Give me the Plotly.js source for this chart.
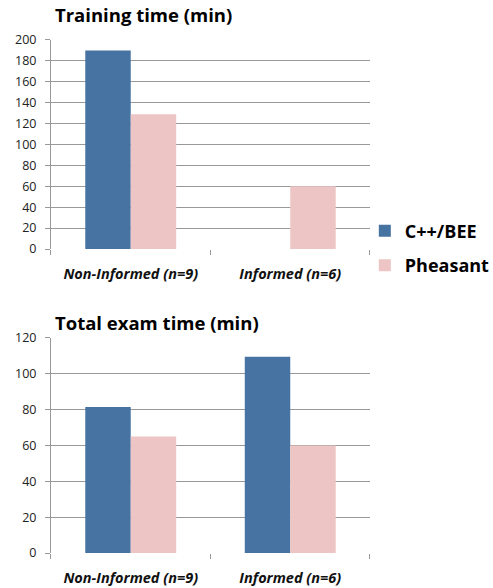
<!DOCTYPE html>
<html><head><meta charset="utf-8">
<script src="https://cdn.plot.ly/plotly-3.0.1.min.js"></script>
<style>body{margin:0;padding:0;background:#fff}#c{width:493px;height:588px}</style>
</head><body><div id="c"></div>
<script>
const categories = ["Non-Informed (n=9)", "Informed (n=6)"];
const seriesNames = ["C++/BEE", "Pheasant"];
const trainingCpp = [190, null];
const trainingPheasant = [129, 60];
const examCpp = [81.5, 109.5];
const examPheasant = [65, 60];
const trainingTicks = [0, 20, 40, 60, 80, 100, 120, 140, 160, 180, 200];
const examTicks = [0, 20, 40, 60, 80, 100, 120];
const chartTitles = ["Training time (min)", "Total exam time (min)"];

const BLUE = "#4773a3", PINK = "#edc5c4";
const FONT = "Open Sans, Liberation Sans, sans-serif";
const catLabels = categories.map(c => "<b><i>" + c + "</i></b>");

const traces = [
  {type:"bar", x:categories, y:trainingCpp, name:seriesNames[0], marker:{color:BLUE}, xaxis:"x", yaxis:"y", legendgroup:"a"},
  {type:"bar", x:categories, y:trainingPheasant, name:seriesNames[1], marker:{color:PINK}, xaxis:"x", yaxis:"y", legendgroup:"b"},
  {type:"bar", x:categories, y:examCpp, name:seriesNames[0], marker:{color:BLUE}, xaxis:"x2", yaxis:"y2", showlegend:false},
  {type:"bar", x:categories, y:examPheasant, name:seriesNames[1], marker:{color:PINK}, xaxis:"x2", yaxis:"y2", showlegend:false}
];

function xax(anchor){
  return {anchor:anchor, domain:[0.1034,0.7505], tickmode:"array", tickvals:categories, ticktext:catLabels,
    tickson:"boundaries", ticks:"outside", ticklen:5, tickcolor:"#999", showline:false, ticklabelstandoff:14,
    tickfont:{family:FONT, size:14.5, color:"#111"}, showgrid:false, zeroline:false, fixedrange:true, automargin:false};
}
function yax(anchor, dom, ticks, range){
  return {anchor:anchor, domain:dom, range:range, tickmode:"array", tickvals:ticks,
    showline:true, linecolor:"#999", linewidth:1, ticks:"outside", ticklen:5, tickcolor:"#999", ticklabelstandoff:6,
    showgrid:true, gridcolor:"#999", gridwidth:1, zeroline:false, automargin:false,
    tickfont:{family:FONT, size:12.5, color:"#222"}, fixedrange:true};
}

const layout = {
  width:493, height:588, margin:{l:0,r:0,t:0,b:0,autoexpand:false},
  paper_bgcolor:"#fff", plot_bgcolor:"#fff",
  barmode:"group", bargap:0.43, bargroupgap:0,
  showlegend:true,
  legend:{x:0.74, y:0.578, xanchor:"left", yanchor:"middle", traceorder:"grouped", tracegroupgap:8, itemwidth:30,
    font:{family:FONT, size:18, color:"#000", weight:"bold"}, bgcolor:"rgba(0,0,0,0)"},
  xaxis:xax("y"), yaxis:yax("x", [0.5765,0.932], trainingTicks, [0,200]),
  xaxis2:xax("y2"), yaxis2:yax("x2", [0.0595,0.4252], examTicks, [0,120]),
  annotations:[
    {text:"<b>"+chartTitles[0]+"</b>", xref:"paper", yref:"paper", x:0.108, y:1-15/588, xanchor:"left", yanchor:"middle", showarrow:false, font:{family:FONT, size:18.5, color:"#000"}},
    {text:"<b>"+chartTitles[1]+"</b>", xref:"paper", yref:"paper", x:0.108, y:1-322/588, xanchor:"left", yanchor:"middle", showarrow:false, font:{family:FONT, size:18.5, color:"#000"}}
  ]
};
Plotly.newPlot("c", traces, layout, {displayModeBar:false, staticPlot:true});
</script></body></html>
